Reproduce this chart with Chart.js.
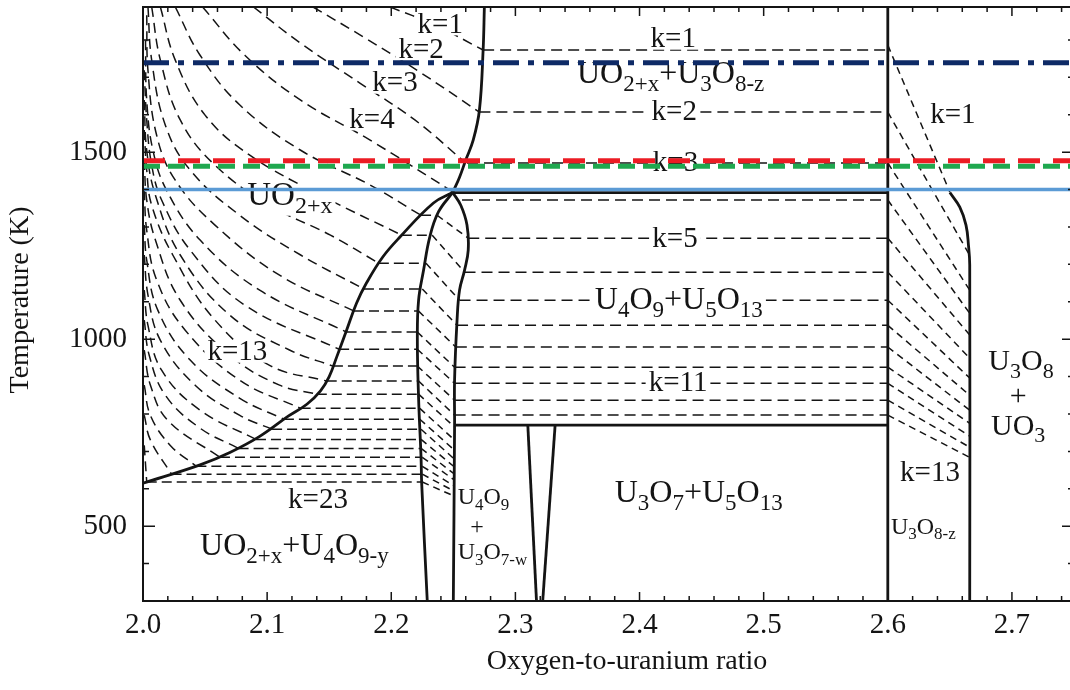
<!DOCTYPE html>
<html>
<head>
<meta charset="utf-8">
<title>U-O phase diagram</title>
<script src="https://cdn.jsdelivr.net/npm/chart.js@4.4.1/dist/chart.umd.min.js"></script>
<style>
    html, body { margin: 0; padding: 0; background: #fff; overflow: hidden; }
    #wrap { width: 1076px; height: 690px; position: relative; }
</style>
</head>
<body>
<div id="wrap"><canvas id="phaseChart"></canvas></div>
<script>
// axis ticks
const xTicks = [2.0, 2.1, 2.2, 2.3, 2.4, 2.5, 2.6, 2.7];
const yTicks = [500, 1000, 1500];

// phase boundaries, [O/U, T]
const uo2Upper = [[2.275, 1888], [2.274, 1773], [2.271, 1612], [2.266, 1532], [2.260, 1479], [2.255, 1433], [2.2495, 1392]];
const uo2Lower = [[2.2495, 1392], [2.234, 1364], [2.207, 1273], [2.193, 1219], [2.180, 1150], [2.172, 1096], [2.164, 1024],
    [2.156, 952], [2.150, 900], [2.143, 862], [2.132, 826], [2.117, 794], [2.094, 740], [2.070, 697], [2.046, 664], [2.000, 615]];
const u4o9Left = [[2.2495, 1392], [2.238, 1340], [2.231, 1273], [2.226, 1184], [2.222, 1104], [2.221, 1004], [2.222, 843],
    [2.224, 683], [2.2245, 615], [2.229, 300]];
const u4o9Right = [[2.2495, 1392], [2.256, 1358], [2.261, 1305], [2.262, 1238], [2.259, 1184], [2.255, 1131], [2.253, 1051],
    [2.251, 891], [2.251, 770], [2.250, 300]];
const u3o8Right = [[2.650, 1392], [2.658, 1353], [2.663, 1305], [2.665, 1251], [2.666, 1198], [2.666, 300]];
const straightBounds = [
    [[2.2495, 1392], [2.600, 1392]],
    [[2.251, 770], [2.600, 770]],
    [[2.310, 770], [2.317, 300]],
    [[2.332, 770], [2.322, 300]],
    [[2.600, 1888], [2.600, 300]]
];

// isotherm-like dashed curves in UO2+x, k = 1..23
const uo2Curves = [
    [[2.199, 1888], [2.235, 1840], [2.274, 1773]],
    [[2.137, 1888], [2.179, 1805], [2.223, 1714], [2.271, 1607]],
    [[2.089, 1888], [2.127, 1791], [2.175, 1684], [2.219, 1586], [2.260, 1471]],
    [[2.048, 1888], [2.082, 1759], [2.127, 1639], [2.183, 1532], [2.2495, 1394]],
    [[2.026, 1888], [2.046, 1759], [2.078, 1626], [2.127, 1505], [2.183, 1412], [2.224, 1331]],
    [[2.014, 1888], [2.026, 1746], [2.050, 1599], [2.086, 1492], [2.143, 1385], [2.2085, 1278]],
    [[2.007, 1888], [2.014, 1746], [2.030, 1586], [2.058, 1465], [2.102, 1358], [2.151, 1278], [2.190, 1203]],
    [[2.004, 1888], [2.007, 1746], [2.018, 1572], [2.038, 1452], [2.078, 1331], [2.127, 1225], [2.178, 1134]],
    [[2.003, 1866], [2.004, 1719], [2.011, 1545], [2.026, 1425], [2.058, 1305], [2.110, 1171], [2.170, 1075]],
    [[2.002, 1799], [2.003, 1639], [2.008, 1505], [2.019, 1398], [2.046, 1265], [2.094, 1131], [2.164, 1019]],
    [[2.001, 1719], [2.003, 1586], [2.007, 1465], [2.015, 1372], [2.038, 1238], [2.082, 1091], [2.158, 973]],
    [[2.001, 1639], [2.003, 1505], [2.010, 1385], [2.030, 1225], [2.070, 1064], [2.118, 971], [2.153, 928]],
    [[2.001, 1559], [2.003, 1452], [2.007, 1358], [2.024, 1225], [2.058, 1051], [2.102, 930], [2.148, 888]],
    [[2.001, 1479], [2.003, 1372], [2.010, 1265], [2.030, 1104], [2.070, 957], [2.110, 877], [2.140, 853]],
    [[2.001, 1398], [2.003, 1291], [2.011, 1158], [2.034, 1024], [2.078, 890], [2.127, 815]],
    [[2.001, 1305], [2.003, 1211], [2.012, 1077], [2.038, 944], [2.078, 842], [2.1135, 786]],
    [[2.001, 1225], [2.004, 1118], [2.014, 997], [2.042, 877], [2.078, 796], [2.104, 759]],
    [[2.001, 1131], [2.004, 1037], [2.015, 917], [2.046, 810], [2.091, 732]],
    [[2.001, 1051], [2.005, 957], [2.018, 850], [2.046, 762], [2.077, 708]],
    [[2.001, 971], [2.006, 877], [2.020, 783], [2.062, 684]],
    [[2.001, 877], [2.006, 796], [2.022, 716], [2.043, 660]],
    [[2.001, 797], [2.006, 730], [2.023, 639]],
    [[2.001, 716], [2.003, 618]]
];

// tie lines UO2+x + U4O9-y: [x from, x to, T]
const leftTies = [
    [2.224, 2.237, 1331], [2.2085, 2.233, 1278], [2.190, 2.228, 1203], [2.178, 2.225, 1134], [2.170, 2.222, 1075],
    [2.164, 2.221, 1019], [2.158, 2.221, 973], [2.153, 2.221, 928], [2.148, 2.222, 888], [2.140, 2.222, 853],
    [2.127, 2.223, 815], [2.1135, 2.223, 786], [2.104, 2.224, 759], [2.091, 2.224, 732], [2.077, 2.224, 708],
    [2.062, 2.225, 684], [2.043, 2.225, 660], [2.023, 2.225, 639], [2.003, 2.225, 618]
];
// hatch inside U4O9: [x1, T1, x2, T2]
const u4o9Hatch = [
    [2.237, 1331, 2.262, 1270], [2.233, 1278, 2.259, 1179], [2.228, 1203, 2.255, 1104], [2.225, 1134, 2.253, 1037],
    [2.222, 1075, 2.252, 979], [2.221, 1019, 2.251, 925], [2.221, 973, 2.251, 882], [2.221, 928, 2.251, 837],
    [2.222, 888, 2.251, 797], [2.222, 853, 2.251, 765], [2.223, 815, 2.251, 730], [2.223, 786, 2.251, 703],
    [2.224, 759, 2.251, 679], [2.224, 732, 2.251, 658], [2.224, 708, 2.251, 639], [2.225, 684, 2.251, 623],
    [2.225, 660, 2.251, 607], [2.225, 639, 2.251, 593], [2.225, 618, 2.251, 580]
];
// tie lines right of U4O9 up to O/U = 2.6: [x from, T]
const rightTies = [
    [2.274, 1773], [2.271, 1607], [2.261, 1471], [2.257, 1372], [2.262, 1270], [2.259, 1179], [2.255, 1104],
    [2.253, 1037], [2.252, 979], [2.251, 925], [2.251, 882], [2.251, 837], [2.251, 797]
];
// hatch inside U3O8-z: [T at 2.6, x end, T end]
const u3o8Hatch = [
    [1786, 2.650, 1393], [1607, 2.665, 1230], [1471, 2.666, 1131], [1372, 2.666, 1069], [1270, 2.666, 1011],
    [1179, 2.666, 949], [1104, 2.666, 896], [1037, 2.666, 850], [979, 2.666, 810], [925, 2.666, 775],
    [882, 2.666, 741], [837, 2.666, 711], [797, 2.666, 684]
];

// coloured temperature markers
const navyT = 1739;
const redT = 1477;
const greenT = 1462;
const blueT = 1400;

// text in the regions: [text, x, T, size, align, white background]
const regionLabels = [
    ['k=1', 2.2395, 1840, 29, 'c', 1],
    ['k=2', 2.224, 1773, 29, 'c', 1],
    ['k=3', 2.203, 1684, 29, 'c', 1],
    ['k=4', 2.1845, 1586, 29, 'c', 1],
    ['UO_{2+x}', 2.084, 1382, 33, 'l', 1],
    ['k=13', 2.076, 965, 29, 'c', 1],
    ['k=23', 2.141, 569, 29, 'c', 0],
    ['UO_{2+x}+U_{4}O_{9-y}', 2.046, 446, 32, 'l', 0],
    ['k=1', 2.4272, 1802, 29, 'c', 1],
    ['UO_{2+x}+U_{3}O_{8-z}', 2.3496, 1706, 32, 'l', 1],
    ['k=2', 2.428, 1607, 29, 'c', 1],
    ['k=3', 2.429, 1471, 29, 'c', 1],
    ['k=5', 2.4286, 1267, 29, 'c', 1],
    ['U_{4}O_{9}+U_{5}O_{13}', 2.364, 1104, 32, 'l', 1],
    ['k=11', 2.431, 882, 29, 'c', 1],
    ['U_{3}O_{7}+U_{5}O_{13}', 2.380, 588, 32, 'l', 0],
    ['U_{4}O_{9}', 2.2535, 577, 24, 'l', 0],
    ['+', 2.269, 497, 24, 'c', 0],
    ['U_{3}O_{7-w}', 2.2535, 428, 24, 'l', 0],
    ['k=1', 2.6524, 1599, 29, 'c', 1],
    ['k=13', 2.634, 642, 29, 'c', 0],
    ['U_{3}O_{8-z}', 2.6025, 497, 24, 'l', 0],
    ['U_{3}O_{8}', 2.7073, 938, 30, 'c', 0],
    ['+', 2.705, 845, 30, 'c', 0],
    ['UO_{3}', 2.705, 765, 30, 'c', 0]
];

const SERIF = "'Liberation Serif', 'DejaVu Serif', serif";
const INK = '#141414';

document.addEventListener('DOMContentLoaded', () => {
    renderPhaseChart();
});

const toXY = pts => pts.map(p => ({ x: p[0], y: p[1] }));

function lineSet(pts, opts) {
    return Object.assign({
        data: toXY(pts),
        showLine: true,
        borderColor: INK,
        borderWidth: 1.5,
        borderDash: [],
        pointRadius: 0,
        pointHoverRadius: 0,
        tension: 0,
        fill: false,
        order: 1
    }, opts);
}

// rich text with _{sub} parts
function parseRich(str) {
    const parts = [];
    const re = /_\{([^}]*)\}/g;
    let m, last = 0;
    while ((m = re.exec(str))) {
        if (m.index > last) parts.push({ t: str.slice(last, m.index), sub: false });
        parts.push({ t: m[1], sub: true });
        last = re.lastIndex;
    }
    if (last < str.length) parts.push({ t: str.slice(last), sub: false });
    return parts;
}

function drawLabels(chart) {
    const ctx = chart.ctx;
    const xs = chart.scales.x, ys = chart.scales.y;
    ctx.save();
    regionLabels.forEach(([text, xv, yv, size, align, bg]) => {
        const parts = parseRich(text);
        const subSize = Math.round(size * 0.72);
        let w = 0;
        parts.forEach(p => {
            ctx.font = (p.sub ? subSize : size) + 'px ' + SERIF;
            p.w = ctx.measureText(p.t).width;
            w += p.w;
        });
        let x = xs.getPixelForValue(xv);
        const y = ys.getPixelForValue(yv);
        if (align === 'c') x -= w / 2;
        const hasSub = parts.some(p => p.sub);
        if (bg) {
            ctx.fillStyle = '#fff';
            ctx.fillRect(x - 3, y - size * 0.36, w + 6, size * (hasSub ? 0.95 : 0.72));
        }
        ctx.fillStyle = INK;
        ctx.textBaseline = 'middle';
        ctx.textAlign = 'left';
        parts.forEach(p => {
            ctx.font = (p.sub ? subSize : size) + 'px ' + SERIF;
            ctx.fillText(p.t, x, p.sub ? y + size * 0.32 : y);
            x += p.w;
        });
    });
    ctx.restore();
}

const frameTicks = {
    id: 'frameTicks',
    beforeDatasetsDraw(chart) {
        chart.$labelsDone = false;
    },
    beforeDatasetDraw(chart, args) {
        const ds = chart.data.datasets[args.index];
        if (ds.highlight && !chart.$labelsDone) {
            drawLabels(chart);
            chart.$labelsDone = true;
        }
    },
    afterDraw(chart) {
        const ctx = chart.ctx;
        const { left, right, top, bottom } = chart.chartArea;
        const xs = chart.scales.x, ys = chart.scales.y;
        ctx.save();
        ctx.strokeStyle = INK;
        ctx.lineWidth = 2;
        ctx.strokeRect(left, top, right - left, bottom - top);

        ctx.lineWidth = 1.5;
        ctx.beginPath();
        for (let i = 0; i <= 37; i++) {
            const px = xs.getPixelForValue(2 + i * 0.02);
            const len = i % 5 === 0 ? 9 : 5;
            ctx.moveTo(px, bottom); ctx.lineTo(px, bottom - len);
            ctx.moveTo(px, top); ctx.lineTo(px, top + len);
        }
        for (let t = 300; t <= 1800; t += 100) {
            const py = ys.getPixelForValue(t);
            const len = t % 500 === 0 ? 12 : 6;
            ctx.moveTo(left, py); ctx.lineTo(left + len, py);
            ctx.moveTo(right, py); ctx.lineTo(right - len, py);
        }
        ctx.stroke();

        // axis titles
        ctx.fillStyle = INK;
        ctx.font = '28px ' + SERIF;
        ctx.textAlign = 'center';
        ctx.textBaseline = 'middle';
        ctx.fillText('Oxygen-to-uranium ratio', 627, 662);
        ctx.translate(21, 300);
        ctx.rotate(-Math.PI / 2);
        ctx.fillText('Temperature (K)', 0, 0);
        ctx.restore();
    }
};

function renderPhaseChart() {
    const datasets = [];

    // coloured markers first so they sit on top
    datasets.push(lineSet([[2.0, navyT], [2.75, navyT]], { borderColor: '#0e2a66', borderWidth: 5, borderDash: [26, 9, 6, 9], order: 0, highlight: true }));
    datasets.push(lineSet([[2.0, redT], [2.75, redT]], { borderColor: '#ec1c24', borderWidth: 5, borderDash: [22, 13], order: 0, highlight: true }));
    datasets.push(lineSet([[2.0, greenT], [2.75, greenT]], { borderColor: '#1fa84f', borderWidth: 5, borderDash: [17, 8], order: 0, highlight: true }));
    datasets.push(lineSet([[2.0, blueT], [2.75, blueT]], { borderColor: '#5b9bd5', borderWidth: 3.5, order: 0, highlight: true }));

    // solid phase boundaries
    [uo2Upper, uo2Lower, u4o9Left, u4o9Right, u3o8Right].forEach(pts => {
        datasets.push(lineSet(pts, { borderWidth: 2.8, tension: 0.4 }));
    });
    straightBounds.forEach(pts => datasets.push(lineSet(pts, { borderWidth: 2.8 })));

    // dashed families
    uo2Curves.forEach(pts => datasets.push(lineSet(pts, { borderDash: [10, 6], tension: 0.4 })));
    leftTies.forEach(([x1, x2, t]) => datasets.push(lineSet([[x1, t], [x2, t]], { borderDash: [10, 5] })));
    u4o9Hatch.forEach(([x1, t1, x2, t2]) => datasets.push(lineSet([[x1, t1], [x2, t2]], { borderDash: [7, 5] })));
    rightTies.forEach(([x1, t]) => datasets.push(lineSet([[x1, t], [2.6, t]], { borderDash: [11, 6] })));
    u3o8Hatch.forEach(([t1, x2, t2]) => datasets.push(lineSet([[2.6, t1], [x2, t2]], { borderDash: [7, 5] })));

    // keep the plot box where the reference has it: no label overhang padding
    const noOverhang = s => { s.paddingTop = 0; s.paddingBottom = 0; s.paddingLeft = 0; s.paddingRight = 0; };

    const ctx = document.getElementById('phaseChart').getContext('2d');
    new Chart(ctx, {
        type: 'scatter',
        data: { datasets },
        options: {
            responsive: true,
            maintainAspectRatio: false,
            animation: false,
            events: [],
            layout: { padding: { top: 7, right: 2, left: 0, bottom: 0 } },
            plugins: { legend: { display: false }, tooltip: { enabled: false } },
            scales: {
                x: {
                    type: 'linear',
                    min: 2.0,
                    max: 2.75,
                    afterBuildTicks: s => { s.ticks = xTicks.map(v => ({ value: v })); },
                    afterFit: s => { s.height = 89; noOverhang(s); },
                    grid: { display: false, drawTicks: false },
                    border: { display: false },
                    ticks: {
                        autoSkip: false,
                        maxRotation: 0,
                        padding: 7,
                        color: INK,
                        font: { family: SERIF, size: 29 },
                        callback: v => Number(v).toFixed(1)
                    }
                },
                y: {
                    type: 'linear',
                    min: 300,
                    max: 1888,
                    afterBuildTicks: s => { s.ticks = yTicks.map(v => ({ value: v })); },
                    afterFit: s => { s.width = 143; noOverhang(s); },
                    grid: { display: false, drawTicks: false },
                    border: { display: false },
                    ticks: {
                        padding: 16,
                        color: INK,
                        font: { family: SERIF, size: 29 },
                        callback: v => String(v)
                    }
                }
            }
        },
        plugins: [frameTicks]
    });
}
</script>
</body>
</html>
